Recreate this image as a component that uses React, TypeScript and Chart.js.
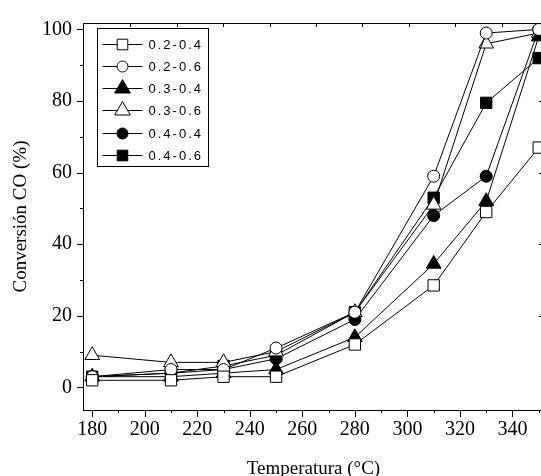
import React, { useEffect, useRef } from 'react';
import { Chart, registerables } from 'chart.js';

Chart.register(...registerables);

// ---- data ----
const temperatures = [180, 210, 230, 250, 280, 310, 330, 350];
const seriesLabels = ['0.2-0.4', '0.2-0.6', '0.3-0.4', '0.3-0.6', '0.4-0.4', '0.4-0.6'];
const conv_02_04 = [2, 2, 3, 3, 12, 28.5, 49, 67];
const conv_02_06 = [3, 5, 5, 11, 21, 59, 99, 100];
const conv_03_04 = [3, 3, 4, 5, 14, 34.5, 52, 98];
const conv_03_06 = [9, 7, 7, 10, 21, 51, 96, 99];
const conv_04_04 = [3, 4, 5, 8, 19, 48, 59, 100];
const conv_04_06 = [3, 4, 6, 9, 21, 53, 79.5, 92];
const xTickValues = [180, 200, 220, 240, 260, 280, 300, 320, 340];
const yTickValues = [0, 20, 40, 60, 80, 100];

const seriesValues = [conv_02_04, conv_02_06, conv_03_04, conv_03_06, conv_04_04, conv_04_06];
const seriesShapes = ['rect', 'circle', 'triangle', 'triangle', 'circle', 'rect'];
const seriesFilled = [false, false, true, false, true, true];

const SERIF = '"Liberation Serif", "Times New Roman", serif';
const SANS = '"Liberation Sans", Arial, sans-serif';

const radiusFor = (shape: string) => (shape === 'rect' ? 8 : shape === 'circle' ? 6 : 8.5);

function drawMarker(ctx: CanvasRenderingContext2D, shape: string, filled: boolean, x: number, y: number, r: number) {
  ctx.beginPath();
  if (shape === 'rect') {
    const s = Math.SQRT1_2 * r;
    ctx.rect(x - s, y - s, 2 * s, 2 * s);
  } else if (shape === 'circle') {
    ctx.arc(x, y, r, 0, Math.PI * 2);
  } else {
    for (let i = 0; i < 3; i++) {
      const ang = (i * 2 * Math.PI) / 3;
      const px = x + Math.sin(ang) * r;
      const py = y - Math.cos(ang) * r;
      if (i === 0) ctx.moveTo(px, py);
      else ctx.lineTo(px, py);
    }
    ctx.closePath();
  }
  ctx.fillStyle = filled ? '#000' : '#fff';
  ctx.fill();
  ctx.strokeStyle = '#000';
  ctx.lineWidth = 1;
  ctx.stroke();
}

const framePlugin = {
  id: 'frameTicks',
  beforeDatasetsDraw(chart: any) {
    const { ctx, chartArea: a, scales } = chart;
    const x = scales.x;
    const y = scales.y;
    ctx.save();
    ctx.strokeStyle = '#000';
    ctx.lineWidth = 1;
    ctx.beginPath();
    // top and right border
    ctx.moveTo(a.left, Math.round(a.top) + 0.5);
    ctx.lineTo(a.right, Math.round(a.top) + 0.5);
    ctx.moveTo(Math.round(a.right) - 0.5, a.top);
    ctx.lineTo(Math.round(a.right) - 0.5, a.bottom);
    // bottom ticks (outward)
    for (let v = 180; v <= 350; v += 10) {
      const px = Math.round(x.getPixelForValue(v)) + 0.5;
      const len = v % 20 === 0 ? 7 : 3;
      ctx.moveTo(px, a.bottom);
      ctx.lineTo(px, a.bottom + len);
    }
    // left ticks (outward)
    for (let v = 0; v <= 100; v += 10) {
      const py = Math.round(y.getPixelForValue(v)) + 0.5;
      const len = v % 20 === 0 ? 6 : 3;
      ctx.moveTo(a.left - len, py);
      ctx.lineTo(a.left, py);
    }
    // right ticks (inward)
    for (let v = 20; v <= 80; v += 20) {
      const py = Math.round(y.getPixelForValue(v)) + 0.5;
      ctx.moveTo(a.right, py);
      ctx.lineTo(a.right - 5, py);
    }
    // top ticks (inward)
    for (let v = 194.4; v < x.max; v += 17.7) {
      const px = Math.round(x.getPixelForValue(v)) + 0.5;
      ctx.moveTo(px, a.top);
      ctx.lineTo(px, a.top + 4);
    }
    ctx.stroke();
    ctx.restore();
  },
};

const legendPlugin = {
  id: 'boxLegend',
  afterDraw(chart: any) {
    const { ctx, chartArea: a } = chart;
    const bx = Math.round(a.left + 14) + 0.5;
    const by = Math.round(a.top + 4.5) + 0.5;
    const bw = 111;
    const bh = 138;
    ctx.save();
    ctx.fillStyle = '#fff';
    ctx.fillRect(bx, by, bw, bh);
    ctx.strokeStyle = '#000';
    ctx.lineWidth = 1;
    ctx.strokeRect(bx, by, bw, bh);
    ctx.font = `13px ${SANS}`;
    (ctx as any).letterSpacing = '2px';
    ctx.textBaseline = 'middle';
    ctx.textAlign = 'left';
    seriesLabels.forEach((label, i) => {
      const cy = Math.round(by + 15 + i * 22.3) + 0.5;
      ctx.beginPath();
      ctx.moveTo(bx + 5, cy);
      ctx.lineTo(bx + 45, cy);
      ctx.strokeStyle = '#000';
      ctx.lineWidth = 1;
      ctx.stroke();
      const shape = seriesShapes[i];
      const r = shape === 'rect' ? 7.5 : shape === 'circle' ? 5.5 : 9;
      drawMarker(ctx, shape, seriesFilled[i], bx + 25, cy, r);
      ctx.fillStyle = '#000';
      ctx.fillText(label, bx + 51, cy + 1);
    });
    ctx.restore();
  },
};

export default function App() {
  const canvasRef = useRef<HTMLCanvasElement | null>(null);

  useEffect(() => {
    if (!canvasRef.current) return;
    const datasets = seriesLabels.map((label, i) => ({
      label,
      data: temperatures.map((t, j) => ({ x: t, y: seriesValues[i][j] })),
      borderColor: '#000',
      borderWidth: 1,
      pointStyle: seriesShapes[i],
      pointRadius: radiusFor(seriesShapes[i]),
      pointBackgroundColor: seriesFilled[i] ? '#000' : '#fff',
      pointBorderColor: '#000',
      pointBorderWidth: 1,
      tension: 0,
      fill: false,
      clip: false as any,
    }));

    const chart = new Chart(canvasRef.current, {
      type: 'line',
      data: { datasets },
      options: {
        responsive: false,
        animation: false,
        devicePixelRatio: 1,
        layout: { padding: { left: 0, top: 17, right: 56, bottom: 0 } },
        plugins: {
          legend: { display: false },
          tooltip: { enabled: false },
        },
        scales: {
          x: {
            type: 'linear',
            min: 176.5,
            max: 352,
            afterFit: (s: any) => {
              s.height = 70;
            },
            afterBuildTicks: (s: any) => {
              s.ticks = xTickValues.map((v) => ({ value: v }));
            },
            grid: { display: false, drawTicks: false },
            border: { display: true, color: '#000', width: 1 },
            ticks: {
              autoSkip: false,
              maxRotation: 0,
              padding: 8,
              color: '#000',
              font: { family: SERIF, size: 20 },
            },
            title: {
              display: true,
              text: 'Temperatura (°C)',
              color: '#000',
              font: { family: SERIF, size: 19 },
              padding: { top: 0, bottom: 0 },
            },
          },
          y: {
            type: 'linear',
            min: -6.3,
            max: 101.8,
            afterFit: (s: any) => {
              s.width = 83;
            },
            afterBuildTicks: (s: any) => {
              s.ticks = yTickValues.map((v) => ({ value: v }));
            },
            grid: { display: false, drawTicks: false },
            border: { display: true, color: '#000', width: 1 },
            ticks: {
              autoSkip: false,
              padding: 11,
              color: '#000',
              font: { family: SERIF, size: 20 },
            },
            title: {
              display: true,
              text: 'Conversión CO (%)',
              color: '#000',
              font: { family: SERIF, size: 19 },
              padding: { top: 10, bottom: 0 },
            },
          },
        },
      },
      plugins: [framePlugin, legendPlugin],
    } as any);

    return () => chart.destroy();
  }, []);

  return (
    <div
      style={{
        position: 'fixed',
        left: 0,
        top: 0,
        width: 541,
        height: 476,
        overflow: 'hidden',
        background: '#fff',
      }}
    >
      <canvas ref={canvasRef} width={600} height={480} style={{ display: 'block' }} />
    </div>
  );
}
